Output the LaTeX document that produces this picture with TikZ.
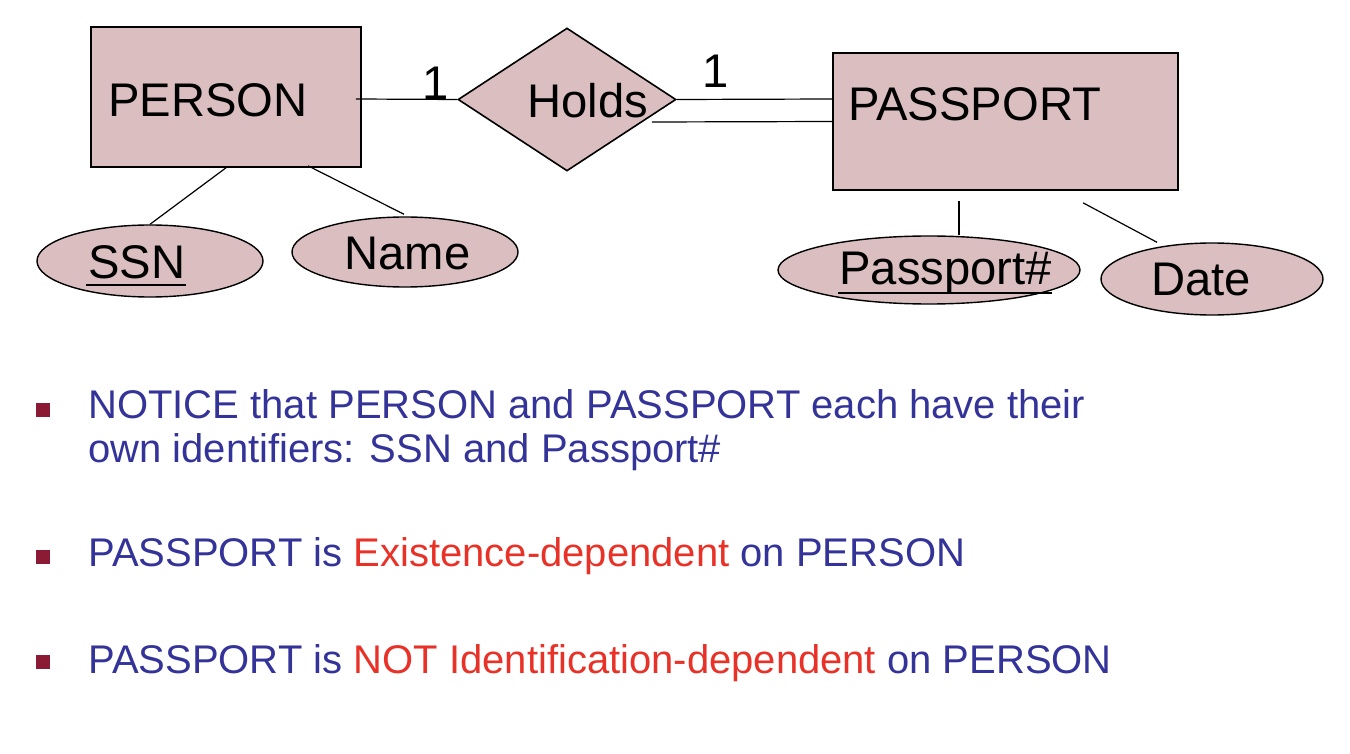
\documentclass[tikz,border=0pt]{standalone}
\usepackage{fontspec}
\setmainfont{Liberation Sans}
\usetikzlibrary{shapes.geometric,calc}
\definecolor{erfill}{RGB}{219,190,192}
\definecolor{txtblue}{RGB}{51,51,153}
\definecolor{txtred}{RGB}{232,50,40}
\definecolor{bulletred}{RGB}{139,26,53}
\tikzset{
  entity/.style={draw=black, line width=0.8pt, fill=erfill, rectangle, inner sep=0pt},
  relship/.style={draw=black, line width=0.8pt, fill=erfill, diamond, inner sep=0pt},
  attrib/.style={draw=black, line width=0.7pt, fill=erfill, ellipse, inner sep=0pt},
  lbl/.style={font=\fontsize{23.6pt}{28pt}\selectfont, anchor=base west, inner sep=0pt},
  btxt/.style={font=\fontsize{20pt}{22pt}\selectfont, text=txtblue, anchor=base west, inner sep=0pt},
  bsq/.style={fill=bulletred, minimum size=7pt, inner sep=0pt, rectangle},
  conn/.style={line width=0.6pt, draw=black},
  uline/.style={line width=1pt, draw=black}
}
\begin{document}
\begin{tikzpicture}[x=0.5pt,y=-0.5pt]
\useasboundingbox (0,0) rectangle (1350,754);
% shapes
\node[entity, minimum width=270*0.5pt, minimum height=140*0.5pt] (person) at (226,97) {};
\node[relship, minimum width=218*0.5pt, minimum height=143*0.5pt] (holds) at (567,99.5) {};
\node[entity, minimum width=345*0.5pt, minimum height=137*0.5pt] (passport) at (1005.5,121.5) {};
\node[attrib, minimum width=226*0.5pt, minimum height=72*0.5pt] (ssn) at (150,261) {};
\node[attrib, minimum width=226*0.5pt, minimum height=70*0.5pt] (name) at (405,252) {};
\node[attrib, minimum width=302*0.5pt, minimum height=68*0.5pt] (ppn) at (929,270) {};
\node[attrib, minimum width=222*0.5pt, minimum height=72*0.5pt] (date) at (1212,279) {};
% labels
\node[lbl] (personl) at (108,117) {PERSON};
\node[lbl] (holdsl) at (527,118) {Holds};
\node[lbl] (passportl) at (848,121) {PASSPORT};
\node[lbl] (ssnl) at (88,279) {SSN};
\node[lbl] (namel) at (344,270) {Name};
\node[lbl] (ppnl) at (839,285) {Passport\#};
\node[lbl] (datel) at (1151,296) {Date};
\node[lbl] (one1) at (422,100) {1};
\node[lbl] (one2) at (702,88) {1};
% underlines of the key attributes
\draw[uline] ($(ssnl.base west)+(-2,6)$) -- ($(ssnl.base east)+(0,6)$);
\draw[uline] ($(ppnl.base west)+(-1,8)$) -- ($(ppnl.base east)+(0,8)$);
% connectors
\draw[conn] ($(person.east)+(-6,2)$) -- (holds.west);
\draw[conn] (holds.east) -- ($(passport.west)+(0,-22.5)$);
\draw[conn] ($(holds.east)+(-25,22.5)$) -- (passport.west);
\draw[conn] (person.south) -- (ssn.north);
\draw[conn] ($(person.south)+(82,-2)$) -- ($(name.north)+(-1,-2)$);
\draw[conn] ($(passport.south)+(-46.5,10)$) -- ($(ppn.north)+(30,0)$);
\draw[conn] ($(passport.south)+(77.5,12)$) -- ($(date.north)+(-55,0)$);
% bullets
\node[bsq] (b1) at (43,410) {};
\node[bsq] (b2) at (43,557) {};
\node[bsq] (b3) at (43,662) {};
\node[btxt] (t1) at (88,418) {NOTICE that PERSON and PASSPORT each have their};
\node[btxt] (t1b) at (88,462) {own identifiers: SSN and Passport\#};
\node[btxt] (t2) at (88,566) {PASSPORT is \textcolor{txtred}{Existence-dependent} on PERSON};
\node[btxt] (t3) at (88,673) {PASSPORT is \textcolor{txtred}{NOT Identification-dependent} on PERSON};
\end{tikzpicture}
\end{document}
